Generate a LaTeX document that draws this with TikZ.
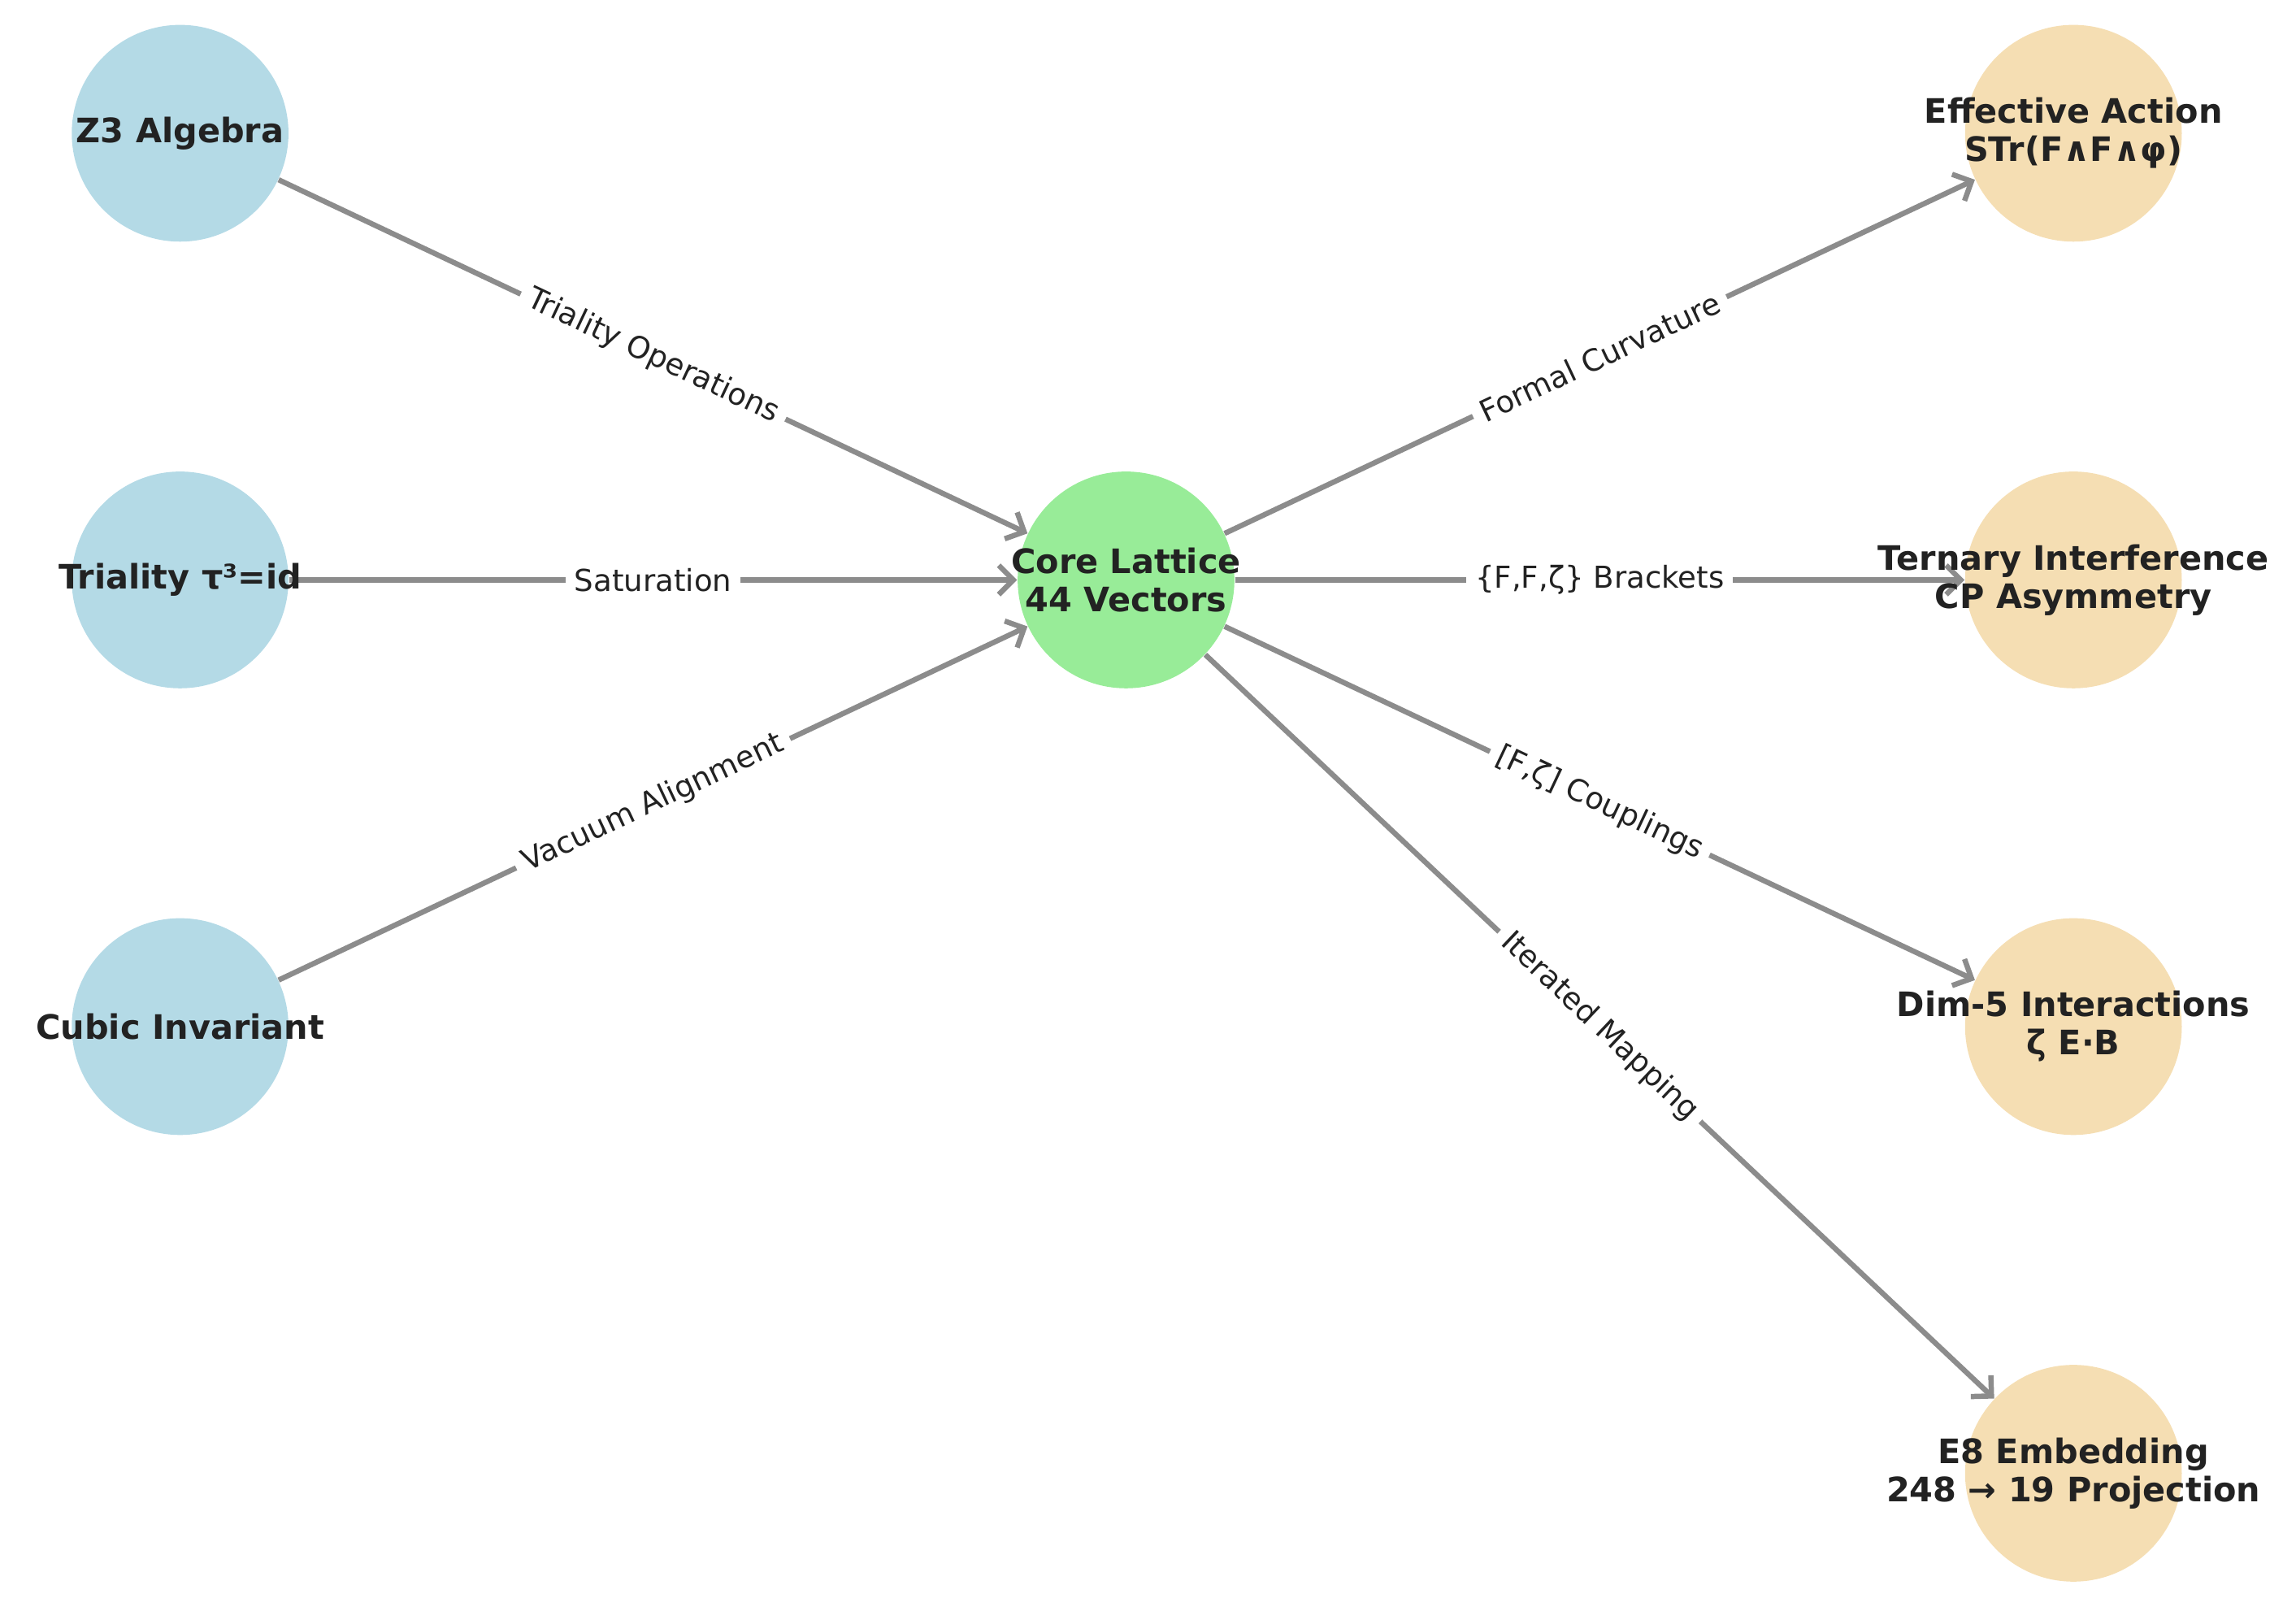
\documentclass[tikz,border=0pt]{standalone}
\usepackage{fontspec}
\setmainfont{DejaVu Sans}
\usetikzlibrary{arrows.meta}
\definecolor{lb}{HTML}{B4DAE6}
\definecolor{lg}{HTML}{98EC98}
\definecolor{wh}{HTML}{F5DEB3}
\definecolor{eg}{HTML}{8C8C8C}
\definecolor{tx}{HTML}{222222}
\begin{document}
\begin{tikzpicture}[x=0.5pt,y=-0.5pt,
 circ/.style={circle,minimum size=74pt,inner sep=0pt,draw=none},
 txt/.style={align=center,font=\fontsize{11.5}{13}\selectfont\bfseries,text=tx},
 e/.style={eg,line width=1.8pt,-{Straight Barb[length=5pt,width=10pt]}},
 lab/.style={midway,sloped,fill=white,inner sep=3pt,font=\fontsize{10.3}{11.5}\selectfont,text=tx}]
\useasboundingbox (0,0) rectangle (1568,1106);
\node[circ,fill=lb] (z3) at (123,91) {};
\node[circ,fill=lb] (tr) at (123,396) {};
\node[circ,fill=lb] (cu) at (123,701) {};
\node[circ,fill=lg] (co) at (769,396) {};
\node[circ,fill=wh] (ef) at (1416,91) {};
\node[circ,fill=wh] (te) at (1416,396) {};
\node[circ,fill=wh] (di) at (1416,701) {};
\node[circ,fill=wh] (e8) at (1416,1006) {};
\draw[e] (z3) -- (co) node[lab]{Triality Operations};
\draw[e] (tr) -- (co) node[lab]{Saturation};
\draw[e] (cu) -- (co) node[lab]{Vacuum Alignment};
\draw[e] (co) -- (ef) node[lab]{Formal Curvature};
\draw[e] (co) -- (te) node[lab]{\{F,F,ζ\} Brackets};
\draw[e] (co) -- (di) node[lab]{[F,ζ] Couplings};
\draw[e] (co) -- (e8) node[lab]{Iterated Mapping};
\node[txt] at (z3) {Z3 Algebra};
\node[txt] at (tr) {Triality τ³=id};
\node[txt] at (cu) {Cubic Invariant};
\node[txt] at (co) {Core Lattice\\44 Vectors};
\node[txt] at (ef) {Effective Action\\STr(F∧F∧φ)};
\node[txt] at (te) {Ternary Interference\\CP Asymmetry};
\node[txt] at (di) {Dim-5 Interactions\\ζ E·B};
\node[txt] at (e8) {E8 Embedding\\248 → 19 Projection};
\end{tikzpicture}
\end{document}
